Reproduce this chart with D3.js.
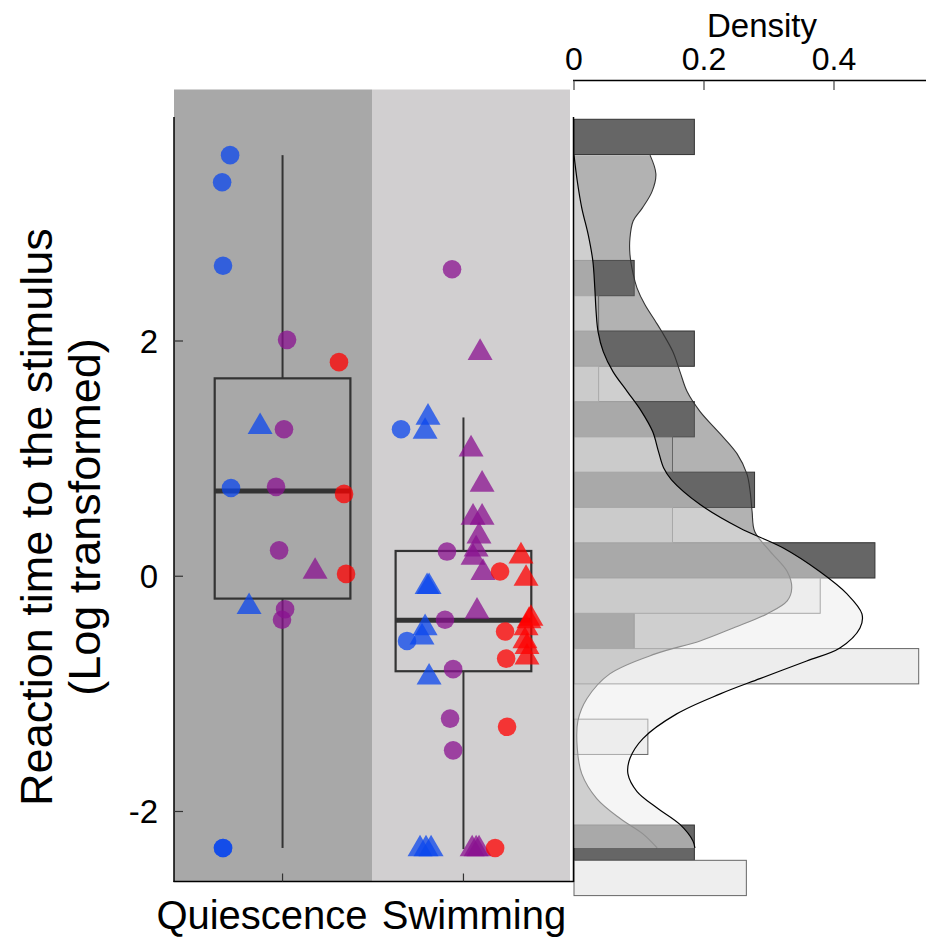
<!DOCTYPE html>
<html><head><meta charset="utf-8">
<script src="https://cdn.jsdelivr.net/npm/d3@7"></script>
<style>
body{margin:0;background:#fff}
svg{display:block}
text{font-family:"Liberation Sans",Arial,sans-serif;fill:#000}
</style>
</head><body>
<svg id="chart" width="926" height="941"></svg>
<script>
// ---------------- data ----------------
const categories = ["Quiescence", "Swimming"];
const yTicks = [-2, 0, 2];
const densityTicks = [0, 0.2, 0.4];

// Quiescence points
const quiesValues = [3.58, 3.35, 2.64, 2.01, 1.82, 1.27, 1.25, 0.75, 0.76, 0.70, 0.22, 0.04, 0.02, -0.26, -0.28, -0.37, -2.31, -2.31];
const quiesGroup  = ["blue","blue","blue","purple","red","blue","purple","blue","purple","red","purple","purple","red","blue","purple","purple","blue","blue"];
const quiesShape  = ["c","c","c","c","c","t","c","c","c","c","c","t","c","t","c","c","c","c"];
const quiesJitter = [-0.29,-0.334,-0.329,0.025,0.312,-0.124,0.008,-0.285,-0.036,0.34,-0.019,0.18,0.351,-0.185,0.014,-0.003,-0.329,-0.329];

// Swimming points
const swimValues = [2.61, 1.90, 1.25, 1.35, 1.23, 1.08, 0.78, 0.50, 0.50, 0.34, 0.23, 0.16, 0.03, 0.21, 0.17, 0.04, -0.02, -0.09, -0.09, -0.30, -0.37, -0.36, -0.38, -0.44, -0.55, -0.60, -0.69, -0.47, -0.70, -0.44, -0.52, -0.55, -0.86, -0.79, -1.21, -1.28, -1.48, -2.32, -2.32, -2.32, -2.32, -2.32, -2.32, -2.31];
const swimGroup  = ["purple","purple","blue","blue","blue","purple","purple","purple","purple","purple","purple","purple","purple","purple","red","red","red","blue","blue","purple","purple","red","red","red","red","red","red","red","red","blue","blue","blue","blue","purple","purple","red","purple","blue","blue","blue","purple","purple","purple","red"];
const swimShape  = ["c","t","c","t","t","t","t","t","t","t","t","t","t","c","t","c","t","t","t","t","c","t","t","t","t","t","t","c","c","t","t","c","t","c","c","c","c","t","t","t","t","t","t","c"];
const swimJitter = [-0.063,0.092,-0.345,-0.196,-0.212,0.042,0.103,0.053,0.103,0.086,0.07,0.053,0.108,-0.091,0.318,0.202,0.346,-0.201,-0.19,0.075,-0.102,0.373,0.362,0.346,0.34,0.351,0.351,0.23,0.236,-0.212,-0.229,-0.312,-0.19,-0.057,-0.074,0.241,-0.057,-0.24,-0.207,-0.179,0.048,0.07,0.086,0.175];

// histogram bins
const binStart = -2.715;
const binWidth = 0.6;
const binCount = 11;

// density curves (value, density)
const densGrayValues = [3.58, 3.42, 3.27, 3.13, 3.02, 2.87, 2.74, 2.57, 2.45, 2.31, 2.17, 2.08, 1.91, 1.74, 1.57, 1.40, 1.21, 1.04, 0.87, 0.72, 0.55, 0.38, 0.21, 0.04, -0.10, -0.21, -0.32, -0.44, -0.55, -0.66, -0.83, -1.04, -1.23, -1.46, -1.68, -1.89, -2.06, -2.19, -2.31];
const densGray = [0.117, 0.126, 0.120, 0.105, 0.091, 0.086, 0.086, 0.091, 0.097, 0.109, 0.125, 0.135, 0.152, 0.163, 0.174, 0.194, 0.225, 0.251, 0.266, 0.271, 0.274, 0.278, 0.302, 0.328, 0.335, 0.328, 0.297, 0.245, 0.194, 0.125, 0.055, 0.020, 0.006, 0.005, 0.012, 0.035, 0.071, 0.106, 0.128];
const densLightValues = [3.58, 3.36, 3.13, 2.90, 2.68, 2.45, 2.25, 2.08, 1.91, 1.74, 1.57, 1.40, 1.23, 1.06, 0.92, 0.82, 0.61, 0.41, 0.24, 0.04, -0.15, -0.32, -0.44, -0.61, -0.72, -0.87, -1.00, -1.17, -1.38, -1.55, -1.68, -1.83, -1.97, -2.11, -2.25, -2.31];
const densLight = [0.0, 0.005, 0.012, 0.022, 0.029, 0.032, 0.034, 0.037, 0.045, 0.060, 0.082, 0.104, 0.121, 0.130, 0.138, 0.150, 0.194, 0.255, 0.322, 0.378, 0.420, 0.443, 0.440, 0.409, 0.358, 0.286, 0.225, 0.158, 0.106, 0.086, 0.083, 0.097, 0.128, 0.163, 0.183, 0.186];

// ---------------- styles ----------------
const colors = {blue: "#0b47ed", purple: "#891190", red: "#ff0000"};

// ---------------- scales ----------------
const svg = d3.select("#chart");
const y = d3.scaleLinear().domain([-2, 2]).range([811.5, 341]);
const xCat = d3.scaleLinear().domain([0.4, 2.6]).range([174, 572]);
const xDen = d3.scaleLinear().domain([0, 0.2]).range([574, 704]);
const panelTop = 89.5, panelBottom = 881.5;

// ---------------- left panel ----------------
svg.append("rect").attr("x", xCat(0.4)).attr("y", panelTop)
  .attr("width", xCat(1.5) - xCat(0.4) - 1).attr("height", panelBottom - panelTop).attr("fill", "#a8a8a8");
svg.append("rect").attr("x", xCat(1.5) - 1).attr("y", panelTop)
  .attr("width", 570 - xCat(1.5) + 1).attr("height", panelBottom - panelTop).attr("fill", "#d1cfd0");

const groups = [
  {vals: quiesValues, grp: quiesGroup, shp: quiesShape, jit: quiesJitter, pos: 1},
  {vals: swimValues, grp: swimGroup, shp: swimShape, jit: swimJitter, pos: 2}
];

const boxHalf = 0.375;
groups.forEach(g => {
  const s = g.vals.slice().sort(d3.ascending);
  const q1 = d3.quantile(s, 0.25), med = d3.quantile(s, 0.5), q3 = d3.quantile(s, 0.75);
  const iqr = q3 - q1;
  const hi = d3.max(s.filter(v => v <= q3 + 1.5 * iqr));
  const lo = d3.min(s.filter(v => v >= q1 - 1.5 * iqr));
  const cx = xCat(g.pos);
  const gg = svg.append("g").attr("stroke", "#333").attr("fill", "none");
  gg.append("line").attr("x1", cx).attr("x2", cx).attr("y1", y(q3)).attr("y2", y(hi)).attr("stroke-width", 2);
  gg.append("line").attr("x1", cx).attr("x2", cx).attr("y1", y(q1)).attr("y2", y(lo)).attr("stroke-width", 2);
  gg.append("rect").attr("x", xCat(g.pos - boxHalf)).attr("y", y(q3))
    .attr("width", xCat(g.pos + boxHalf) - xCat(g.pos - boxHalf)).attr("height", y(q1) - y(q3))
    .attr("stroke-width", 2.2);
  gg.append("line").attr("x1", xCat(g.pos - boxHalf)).attr("x2", xCat(g.pos + boxHalf))
    .attr("y1", y(med)).attr("y2", y(med)).attr("stroke-width", 5);
});

const circleSym = d3.symbol().type(d3.symbolCircle).size(272);
const triSym = d3.symbol().type(d3.symbolTriangle).size(270);
groups.forEach(g => {
  svg.append("g").selectAll("path").data(g.vals.map((v, i) => ({v, i})))
    .join("path")
    .attr("d", d => g.shp[d.i] === "t" ? triSym() : circleSym())
    .attr("transform", d => `translate(${xCat(g.pos + g.jit[d.i])},${y(d.v)})`)
    .attr("fill", d => colors[g.grp[d.i]])
    .attr("fill-opacity", 0.75);
});

// left axes
svg.append("line").attr("x1", 174).attr("x2", 174).attr("y1", 117).attr("y2", panelBottom + 0.5)
  .attr("stroke", "#000").attr("stroke-width", 1.5);
svg.append("line").attr("x1", 173.5).attr("x2", 574).attr("y1", panelBottom).attr("y2", panelBottom)
  .attr("stroke", "#000").attr("stroke-width", 1.5);
yTicks.forEach(t => {
  svg.append("line").attr("x1", 174).attr("x2", 183).attr("y1", y(t)).attr("y2", y(t))
    .attr("stroke", "#333").attr("stroke-width", 1.2);
  svg.append("text").attr("x", 158).attr("y", y(t)).attr("dy", "0.36em")
    .attr("text-anchor", "end").attr("font-size", 33).text(t < 0 ? "-" + Math.abs(t) : t);
});
[1, 2].forEach(p => {
  svg.append("line").attr("x1", xCat(p)).attr("x2", xCat(p)).attr("y1", panelBottom - 8).attr("y2", panelBottom)
    .attr("stroke", "#333").attr("stroke-width", 1.2);
});
svg.append("text").attr("x", 262).attr("y", 929).attr("text-anchor", "middle").attr("font-size", 40).text(categories[0]);
svg.append("text").attr("x", 474).attr("y", 929).attr("text-anchor", "middle").attr("font-size", 40).text(categories[1]);

const yt = svg.append("g").attr("transform", "translate(0,517) rotate(-90)");
yt.append("text").attr("x", 0).attr("y", 52).attr("text-anchor", "middle").attr("font-size", 45).text("Reaction time to the stimulus");
yt.append("text").attr("x", 0).attr("y", 100).attr("text-anchor", "middle").attr("font-size", 45).text("(Log transformed)");

// ---------------- right panel ----------------
const thresholds = d3.range(binCount + 1).map(i => binStart + i * binWidth);
const binner = d3.bin().domain([thresholds[0], thresholds[binCount]]).thresholds(thresholds.slice(1, -1));
const qBins = binner(quiesValues);
const sBins = binner(swimValues);

const bars = svg.append("g");
qBins.forEach(b => {
  if (!b.length) return;
  const dens = b.length / (quiesValues.length * binWidth);
  const mid = (b.x0 + b.x1) / 2;
  bars.append("rect").attr("x", xDen(0)).attr("y", y(b.x1))
    .attr("width", xDen(dens) - xDen(0)).attr("height", y(mid) - y(b.x1))
    .attr("fill", "#666666").attr("stroke", "#333").attr("stroke-width", 1);
});
sBins.forEach(b => {
  if (!b.length) return;
  const dens = b.length / (swimValues.length * binWidth);
  const mid = (b.x0 + b.x1) / 2;
  bars.append("rect").attr("x", xDen(0)).attr("y", y(mid))
    .attr("width", xDen(dens) - xDen(0)).attr("height", y(b.x0) - y(mid))
    .attr("fill", "#eeeeee").attr("stroke", "#666").attr("stroke-width", 1);
});

function drawDensity(vals, dens, fill, op, stroke, sw) {
  const pts = vals.map((v, i) => [v, dens[i]]);
  const area = d3.area().curve(d3.curveCatmullRom)
    .y(d => y(d[0])).x0(xDen(0)).x1(d => xDen(d[1]));
  const line = d3.line().curve(d3.curveCatmullRom)
    .y(d => y(d[0])).x(d => xDen(d[1]));
  svg.append("path").attr("d", area(pts)).attr("fill", fill).attr("fill-opacity", op).attr("stroke", "none");
  svg.append("path").attr("d", line(pts)).attr("fill", "none").attr("stroke", stroke).attr("stroke-width", sw);
}
drawDensity(densGrayValues, densGray, "#666666", 0.5, "#333", 1.1);
drawDensity(densLightValues, densLight, "#ebebeb", 0.5, "#000", 1.2);

// right axes
svg.append("line").attr("x1", 573.5).attr("x2", 573.5).attr("y1", 117).attr("y2", panelBottom + 0.5)
  .attr("stroke", "#000").attr("stroke-width", 1.5);
svg.append("line").attr("x1", 573).attr("x2", 926).attr("y1", 80.5).attr("y2", 80.5)
  .attr("stroke", "#000").attr("stroke-width", 1.5);
densityTicks.forEach(t => {
  svg.append("line").attr("x1", xDen(t)).attr("x2", xDen(t)).attr("y1", 80.5).attr("y2", 90)
    .attr("stroke", "#444").attr("stroke-width", 1.2);
  svg.append("text").attr("x", xDen(t)).attr("y", 70).attr("text-anchor", "middle")
    .attr("font-size", 32).text(t === 0 ? "0" : d3.format(".1f")(t));
});
svg.append("text").attr("x", 762).attr("y", 37).attr("text-anchor", "middle").attr("font-size", 33).text("Density");
</script>
</body></html>
